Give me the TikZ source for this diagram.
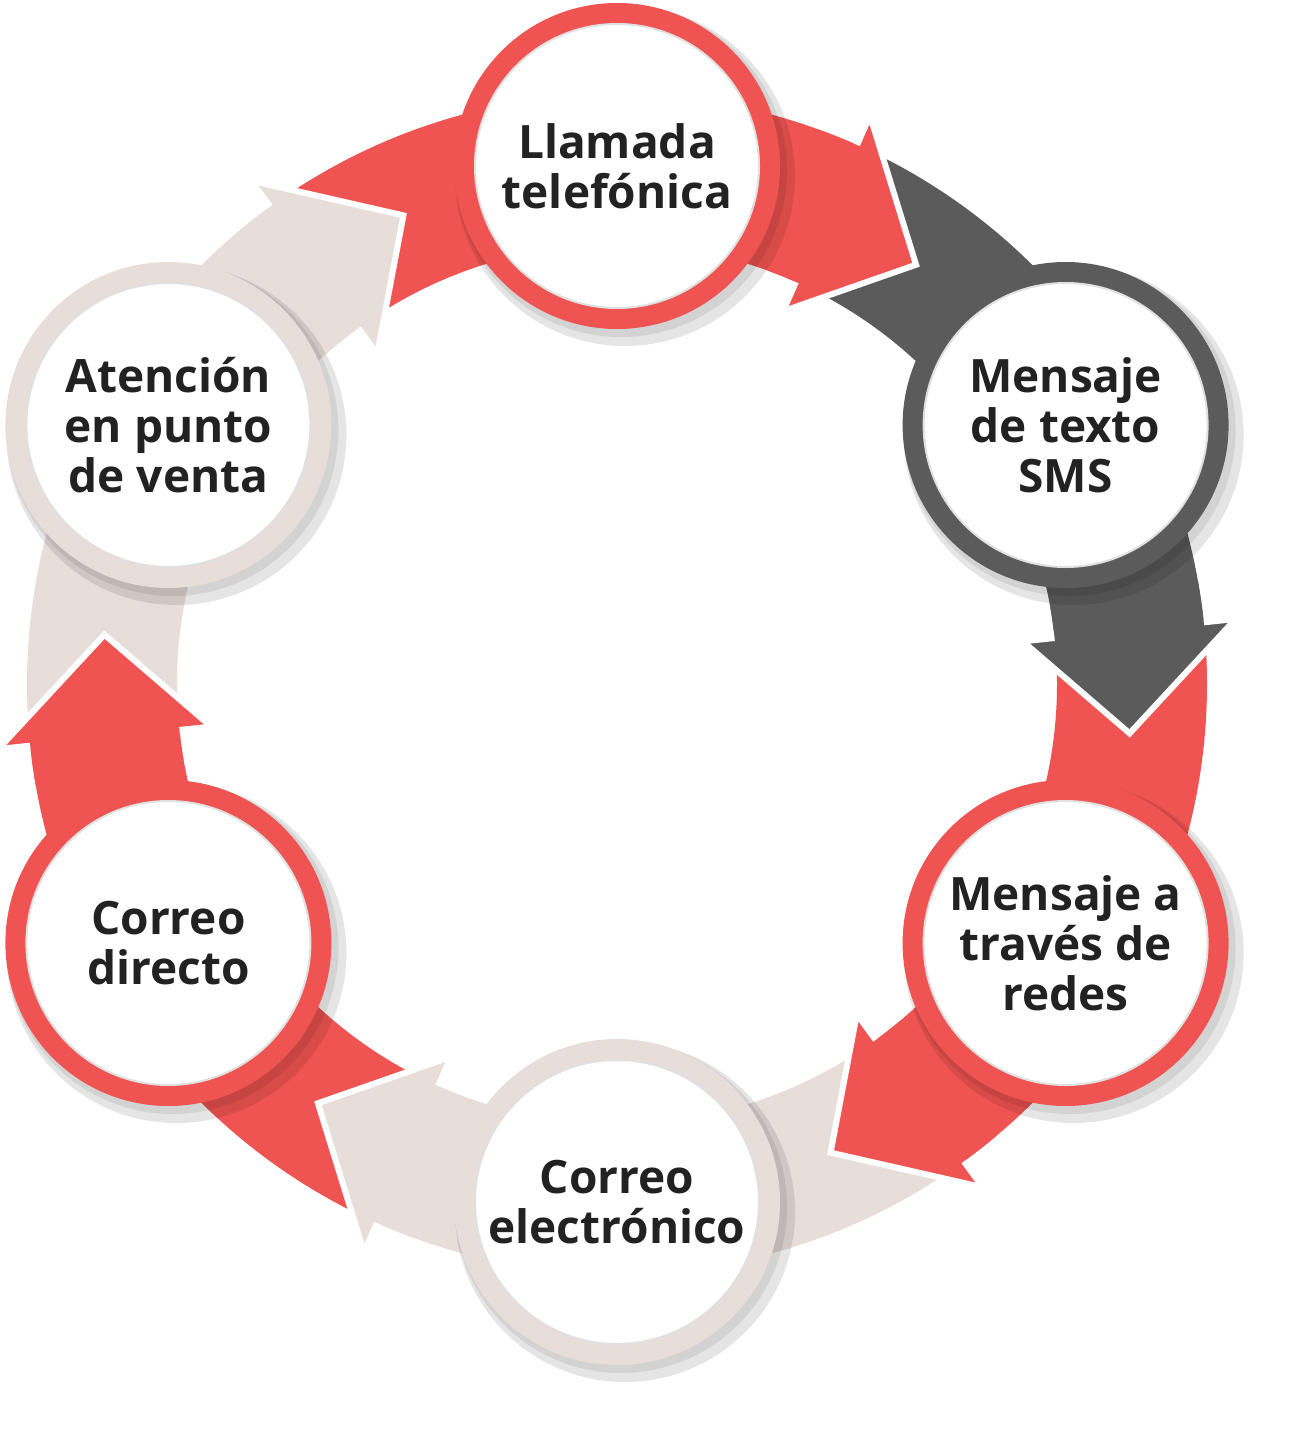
\documentclass[tikz,border=0pt]{standalone}
\usepackage{fontspec}
\usetikzlibrary{calc}
\setmainfont{Open Sans}
\definecolor{cred}{HTML}{F05452}
\definecolor{cdark}{HTML}{5B5B5B}
\definecolor{cbeige}{HTML}{E7DEDA}
\definecolor{ctext}{HTML}{222222}
\tikzset{
  bodyst/.style={fill=#1},
  headst/.style={fill=#1,draw=white,line width=6pt,line join=miter},
  ringst/.style={circle,minimum size=326pt,fill=#1,inner sep=0pt},
  labst/.style={circle,minimum size=284pt,fill=white,draw=black!12,line width=2pt,inner sep=0pt,align=center,font=\bfseries\fontsize{46}{50}\selectfont,text=ctext},
}
\begin{document}
\begin{tikzpicture}[x=1pt,y=1pt]
\useasboundingbox (0,0) rectangle (1306,-1442);
\begin{scope}[shift={(617,-684)}]
\coordinate (C) at (0,0);
% bodies
\foreach \t/\c in {90/cred,30/cdark,-30/cred,-90/cbeige,-150/cred,150/cbeige}{
  \fill[bodyst=\c] (\t+33:440) -- (\t+33:590) arc[start angle=\t+33,end angle=\t-25,radius=590]
    -- (\t-25:440) arc[start angle=\t-25,end angle=\t+33,radius=440] -- cycle;
}
% heads
\foreach \t/\c in {90/cred,30/cdark,-30/cred,-90/cbeige,-150/cred,150/cbeige}{
  \path[headst=\c] (\t-24:408) -- (\t-24:622) -- (\t-35.5:515) -- cycle;
  \fill[\c] (\t-20:440) -- (\t-20:590) arc[start angle=\t-20,end angle=\t-25,radius=590] -- (\t-25:440) arc[start angle=\t-25,end angle=\t-20,radius=440] -- cycle;
}
% shadows
\foreach \t in {90,30,-30,-90,-150,150}{
  \fill[black,opacity=.10] ($(\t:518)+(8,-10)$) circle (170);
  \fill[black,opacity=.08] ($(\t:518)+(4,-5)$) circle (166);
}
\node[ringst=cred]   (r1) at (90:518) {};
\node[ringst=cdark]  (r2) at (30:518) {};
\node[ringst=cred]   (r3) at (-30:518) {};
\node[ringst=cbeige] (r4) at (-90:518) {};
\node[ringst=cred]   (r5) at (-150:518) {};
\node[ringst=cbeige] (r6) at (150:518) {};
\node[labst] (n1) at (r1) {Llamada\\telefónica};
\node[labst] (n2) at (r2) {Mensaje\\de texto\\SMS};
\node[labst] (n3) at (r3) {Mensaje a\\través de\\redes};
\node[labst] (n4) at (r4) {Correo\\electrónico};
\node[labst] (n5) at (r5) {Correo\\directo};
\node[labst] (n6) at (r6) {Atención\\en punto\\de venta};
\end{scope}
\end{tikzpicture}
\end{document}
